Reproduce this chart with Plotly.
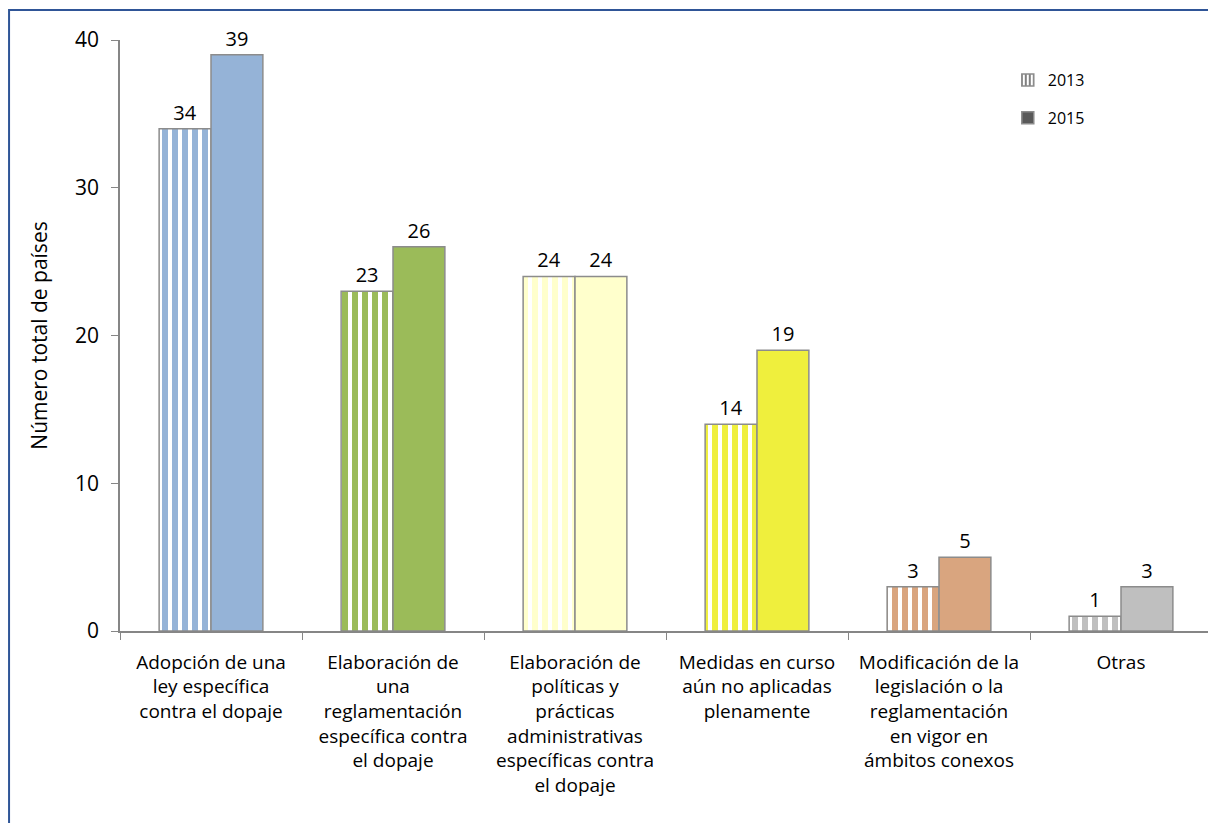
import plotly.graph_objects as go

categories = [
    "Adopción de una<br>ley específica<br>contra el dopaje",
    "Elaboración de<br>una<br>reglamentación<br>específica contra<br>el dopaje",
    "Elaboración de<br>políticas y<br>prácticas<br>administrativas<br>específicas contra<br>el dopaje",
    "Medidas en curso<br>aún no aplicadas<br>plenamente",
    "Modificación de la<br>legislación o la<br>reglamentación<br>en vigor en<br>ámbitos conexos",
    "Otras",
]
values_2013 = [34, 23, 24, 14, 3, 1]
values_2015 = [39, 26, 24, 19, 5, 3]
colors = ["#95B3D7", "#9BBB59", "#FFFFCC", "#EFEF3D", "#D9A57F", "#BFBFBF"]

FONT = "Open Sans"
outline = dict(color="#8C8C8C", width=1.5)

fig = go.Figure()
fig.add_trace(go.Bar(
    x=categories, y=values_2013, name="2013", showlegend=False, offsetgroup="a",
    marker=dict(color="white", line=outline,
                pattern=dict(shape="|", fgcolor=colors, bgcolor="white", fgopacity=1,
                             size=10, solidity=0.6, fillmode="overlay")),
    text=values_2013, textposition="outside", cliponaxis=False,
    textfont=dict(size=20, color="black", family=FONT),
))
fig.add_trace(go.Bar(
    x=categories, y=values_2015, name="2015", showlegend=False, offsetgroup="b",
    marker=dict(color=colors, line=outline),
    text=values_2015, textposition="outside", cliponaxis=False,
    textfont=dict(size=20, color="black", family=FONT),
))
# legend-only entries
fig.add_trace(go.Bar(
    x=[None], y=[None], name="2013", showlegend=True, offsetgroup="a", legendgroup="g1",
    marker=dict(color="white", line=outline,
                pattern=dict(shape="|", fgcolor="#7F7F7F", bgcolor="white", fgopacity=1,
                             size=5, solidity=0.5, fillmode="overlay")),
))
fig.add_trace(go.Bar(
    x=[None], y=[None], name="2015", showlegend=True, offsetgroup="b", legendgroup="g2",
    marker=dict(color="#595959", line=outline),
))

fig.update_layout(
    width=1208, height=815,
    margin=dict(l=112, r=4, t=32, b=192, autoexpand=False),
    paper_bgcolor="white", plot_bgcolor="white",
    barmode="group", bargap=0.43, bargroupgap=0,
    font=dict(family=FONT, size=16, color="black"),
    legend=dict(x=0.813, y=0.961, xanchor="left", yanchor="top",
                font=dict(size=16, family=FONT), bgcolor="rgba(0,0,0,0)",
                tracegroupgap=14),
    shapes=[dict(type="rect", xref="paper", yref="paper",
                 x0=-0.1016, x1=1.0027, y0=-0.34, y1=1.0508,
                 line=dict(color="#2F5597", width=2), fillcolor="rgba(0,0,0,0)")],
)
fig.update_xaxes(
    automargin=False,
    showline=True, linecolor="#868686", linewidth=1.5,
    ticks="outside", tickson="boundaries", ticklen=7, tickcolor="#868686",
    tickfont=dict(size=19, family=FONT), showgrid=False, ticklabelstandoff=13,
)
fig.update_yaxes(
    automargin=False,
    range=[0, 40], dtick=10, showline=True, linecolor="#868686", linewidth=1.5,
    ticks="outside", ticklen=7, tickcolor="#868686", showgrid=False, zeroline=False,
    tickfont=dict(size=21, family=FONT), ticklabelstandoff=8,
    title=dict(text="Número total de países", font=dict(size=21, family=FONT), standoff=22),
)

fig.write_html("out.html")
